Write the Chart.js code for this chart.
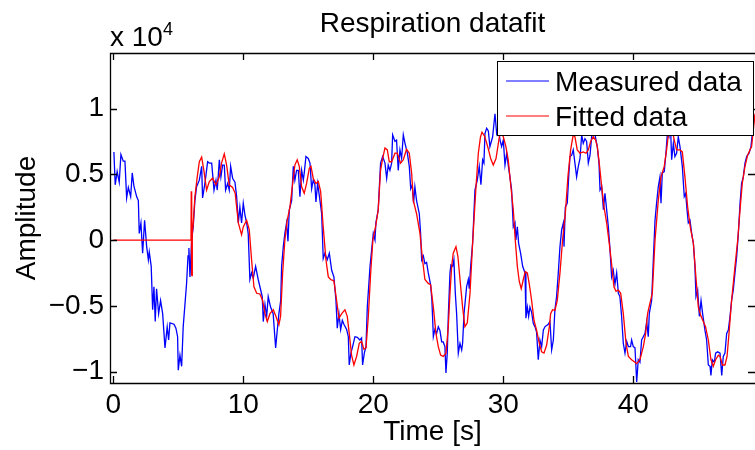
<!DOCTYPE html>
<html>
<head>
<meta charset="utf-8">
<script src="https://cdn.jsdelivr.net/npm/chart.js@4.4.1/dist/chart.umd.min.js"></script>
<style>
  html, body { margin: 0; padding: 0; background: #fff; }
  #wrap { width: 755px; height: 450px; }
</style>
</head>
<body>
<div id="wrap"><canvas id="chart" width="755" height="450"></canvas></div>
<script>
  "use strict";

  // axis ticks (amplitude in units of 10^4)
  var xTicks = [0, 10, 20, 30, 40];
  var yTicks = [-1, -0.5, 0, 0.5, 1];

  // measured respiration signal: [time s, amplitude x 10^4]
  var measured = [
    [0.05, 0.67], [0.15, 0.42], [0.3, 0.52], [0.46, 0.44], [0.59, 0.65], [0.77, 0.60], [0.9, 0.60],
    [1.03, 0.32], [1.16, 0.40], [1.34, 0.33], [1.46, 0.51], [1.59, 0.41], [1.8, 0.33], [1.93, 0.30],
    [2.0, 0.05], [2.13, 0.13], [2.26, -0.10], [2.41, 0.15], [2.57, -0.05], [2.7, -0.15], [2.77, -0.09],
    [2.92, -0.20], [3.03, -0.53], [3.13, -0.355], [3.23, -0.62], [3.33, -0.37], [3.49, -0.56], [3.64, -0.46],
    [3.8, -0.56], [3.98, -0.82], [4.15, -0.66], [4.26, -0.76], [4.36, -0.63], [4.67, -0.64], [4.82, -0.67],
    [4.95, -0.735], [5.0, -0.99], [5.13, -0.875], [5.26, -0.96], [5.38, -0.66], [5.64, -0.33], [5.75, -0.12],
    [5.82, -0.06], [5.9, -0.28], [6.03, 0.0], [6.15, 0.10], [6.28, 0.30], [6.41, 0.405], [6.62, 0.455], [6.8, 0.56],
    [6.87, 0.32], [7.05, 0.43], [7.26, 0.595], [7.39, 0.585], [7.57, 0.585], [7.75, 0.38], [7.9, 0.455],
    [8.0, 0.38], [8.16, 0.61], [8.28, 0.48], [8.41, 0.57], [8.54, 0.57], [8.64, 0.38], [8.8, 0.43],
    [8.92, 0.38], [9.03, 0.56], [9.18, 0.47], [9.36, 0.44], [9.49, 0.33], [9.62, 0.13], [9.74, 0.25],
    [9.87, 0.13], [10.0, 0.28], [10.13, 0.19], [10.26, 0.13], [10.38, 0.05], [10.51, -0.30], [10.64, -0.25],
    [10.77, -0.29], [10.95, -0.20], [11.15, -0.30], [11.34, -0.38], [11.46, -0.43], [11.54, -0.62], [11.67, -0.49],
    [11.8, -0.58], [11.92, -0.43], [12.1, -0.51], [12.3, -0.56], [12.49, -0.82], [12.62, -0.68], [12.74, -0.56],
    [12.88, -0.46], [12.95, -0.20], [13.08, -0.05], [13.2, 0.05], [13.33, 0.13], [13.44, -0.01], [13.54, 0.23],
    [13.72, 0.30], [13.85, 0.56], [13.97, 0.455], [14.1, 0.53], [14.23, 0.53], [14.36, 0.33], [14.49, 0.53],
    [14.62, 0.455], [14.69, 0.51], [14.82, 0.635], [15.0, 0.62], [15.13, 0.585], [15.26, 0.39], [15.38, 0.455],
    [15.51, 0.42], [15.59, 0.29], [15.72, 0.43], [15.9, 0.30], [16.03, 0.20], [16.15, -0.14], [16.28, -0.10],
    [16.46, -0.15], [16.62, -0.10], [16.8, -0.23], [16.97, -0.28], [17.13, -0.46], [17.23, -0.67], [17.36, -0.56],
    [17.49, -0.68], [17.62, -0.61], [17.74, -0.64], [17.95, -0.68], [18.08, -0.735], [18.15, -0.95], [18.28, -0.86],
    [18.41, -0.81], [18.59, -0.735], [18.77, -0.74], [18.97, -0.76], [19.1, -0.745], [19.18, -0.95], [19.31, -0.86],
    [19.44, -0.81], [19.54, -0.51], [19.75, -0.20], [19.87, -0.08], [20.0, 0.05], [20.13, 0.0], [20.2, 0.13],
    [20.38, 0.23], [20.56, 0.585], [20.72, 0.635], [20.9, 0.585], [21.03, 0.47], [21.15, 0.57], [21.28, 0.53],
    [21.41, 0.585], [21.49, 0.80], [21.67, 0.75], [21.79, 0.76], [21.92, 0.53], [22.05, 0.685], [22.18, 0.62],
    [22.31, 0.80], [22.44, 0.735], [22.62, 0.66], [22.77, 0.56], [22.88, 0.39], [23.0, 0.42], [23.1, 0.28],
    [23.2, 0.405], [23.33, 0.30], [23.54, 0.20], [23.64, 0.05], [23.72, -0.15], [23.85, -0.12], [23.97, -0.18],
    [24.1, -0.17], [24.23, -0.25], [24.41, -0.34], [24.51, -0.46], [24.62, -0.735], [24.74, -0.68], [24.87, -0.71],
    [25.0, -0.66], [25.13, -0.69], [25.26, -0.775], [25.38, -0.775], [25.51, -0.81], [25.59, -1.01], [25.69, -0.86],
    [25.77, -0.58], [25.9, -0.25], [25.97, -0.19], [26.1, -0.20], [26.2, -0.15], [26.31, -0.405], [26.41, -0.56],
    [26.54, -0.86], [26.67, -0.785], [26.8, -0.835], [26.87, -0.785], [26.98, -0.56], [27.18, -0.355], [27.31, -0.30],
    [27.38, -0.37], [27.49, -0.20], [27.64, -0.025], [27.82, 0.38], [28.0, 0.455], [28.15, 0.56], [28.28, 0.42],
    [28.41, 0.61], [28.51, 0.585], [28.59, 0.81], [28.72, 0.85], [28.85, 0.83], [28.97, 0.71], [29.18, 0.785],
    [29.36, 0.96], [29.49, 0.81], [29.62, 0.85], [29.75, 0.76], [29.87, 0.71], [30.0, 0.76], [30.13, 0.57],
    [30.26, 0.66], [30.38, 0.57], [30.51, 0.48], [30.64, 0.38], [30.77, 0.10], [30.9, 0.13], [30.97, 0.0],
    [31.08, 0.10], [31.18, -0.025], [31.33, -0.10], [31.49, -0.20], [31.67, -0.25], [31.74, -0.595], [31.85, -0.51],
    [31.95, -0.58], [32.05, -0.51], [32.18, -0.55], [32.31, -0.635], [32.44, -0.66], [32.56, -0.70], [32.69, -0.91],
    [32.82, -0.76], [32.95, -0.81], [33.08, -0.685], [33.2, -0.66], [33.33, -0.65], [33.46, -0.64], [33.59, -0.62],
    [33.72, -0.835], [33.85, -0.76], [33.97, -0.53], [34.1, -0.43], [34.23, -0.25], [34.36, -0.05], [34.49, 0.08],
    [34.62, 0.13], [34.67, -0.05], [34.77, 0.25], [34.92, 0.28], [35.03, 0.48], [35.13, 0.635], [35.26, 0.645],
    [35.38, 0.685], [35.51, 0.585], [35.64, 0.48], [35.77, 0.56], [35.9, 0.62], [36.03, 0.80], [36.15, 0.735],
    [36.28, 0.77], [36.41, 0.75], [36.54, 0.585], [36.67, 0.645], [36.8, 0.79], [36.97, 0.85], [37.13, 0.76],
    [37.23, 0.71], [37.36, 0.585], [37.44, 0.38], [37.57, 0.405], [37.7, 0.23], [37.82, 0.355], [37.95, 0.23],
    [38.08, 0.10], [38.21, -0.075], [38.33, -0.28], [38.46, -0.23], [38.59, -0.335], [38.72, -0.25], [38.85, -0.405],
    [38.97, -0.43], [39.1, -0.58], [39.23, -0.785], [39.36, -0.86], [39.49, -0.77], [39.62, -0.81], [39.79, -0.81],
    [39.87, -0.76], [40.0, -0.81], [40.13, -0.82], [40.26, -1.08], [40.38, -0.91], [40.51, -0.93], [40.64, -0.76],
    [40.77, -0.735], [40.9, -0.71], [41.03, -0.62], [41.15, -0.735], [41.23, -0.56], [41.41, -0.46], [41.54, -0.15],
    [41.67, 0.15], [41.79, 0.28], [41.92, 0.405], [42.05, 0.48], [42.13, 0.28], [42.23, 0.51], [42.38, 0.52],
    [42.51, 0.66], [42.62, 0.81], [42.74, 0.785], [42.85, 0.9], [42.95, 0.61], [43.08, 0.735], [43.2, 0.635],
    [43.33, 0.66], [43.46, 0.785], [43.59, 0.71], [43.77, 0.56], [43.92, 0.33], [44.03, 0.355], [44.13, 0.23],
    [44.23, 0.13], [44.36, 0.15], [44.49, 0.05], [44.62, -0.025], [44.74, -0.20], [44.82, -0.43], [44.95, -0.38],
    [45.08, -0.58], [45.21, -0.46], [45.33, -0.56], [45.51, -0.685], [45.64, -0.76], [45.77, -0.95], [45.9, -0.96],
    [45.97, -1.03], [46.08, -0.91], [46.23, -0.93], [46.33, -0.86], [46.49, -0.85], [46.67, -0.86], [46.8, -1.03],
    [46.92, -0.885], [47.05, -0.86], [47.18, -0.71], [47.31, -0.685], [47.44, -0.58], [47.56, -0.46], [47.69, -0.38],
    [47.82, -0.25], [47.95, -0.125], [48.08, 0.05], [48.21, 0.28], [48.33, 0.43], [48.46, 0.48], [48.59, 0.585],
    [48.72, 0.635], [48.9, 0.66], [49.05, 0.71], [49.18, 0.835], [49.31, 0.94]
  ];

  // fitted model: [time s, amplitude x 10^4]
  var fitted = [
    [0, 0], [5.98, 0], [6.0, 0.37], [6.02, -0.27], [6.04, 0.37], [6.06, -0.27], [6.08, 0.05], [6.15, 0.12],
    [6.28, 0.33], [6.46, 0.48],
    [6.62, 0.595], [6.8, 0.63], [6.97, 0.53], [7.18, 0.38], [7.39, 0.445], [7.64, 0.47], [7.9, 0.42],
    [8.16, 0.48], [8.33, 0.585], [8.54, 0.655], [8.72, 0.57], [8.92, 0.42], [9.18, 0.40], [9.38, 0.355],
    [9.62, 0.13], [9.87, 0.04], [10.0, 0.10], [10.26, 0.15], [10.46, 0.08], [10.64, -0.15], [10.82, -0.355],
    [11.03, -0.405], [11.28, -0.41], [11.49, -0.46], [11.67, -0.56], [11.85, -0.62], [12.05, -0.56], [12.31, -0.53],
    [12.51, -0.58], [12.74, -0.645], [12.87, -0.58], [13.03, -0.25], [13.2, 0.0], [13.38, 0.15], [13.59, 0.25],
    [13.8, 0.43], [13.97, 0.57], [14.15, 0.61], [14.31, 0.56], [14.49, 0.405], [14.69, 0.355], [14.87, 0.43],
    [15.08, 0.545], [15.21, 0.56], [15.38, 0.47], [15.59, 0.43], [15.77, 0.445], [15.95, 0.37], [16.15, 0.10],
    [16.36, -0.15], [16.54, -0.28], [16.72, -0.30], [16.97, -0.31], [17.18, -0.46], [17.36, -0.595], [17.57, -0.56],
    [17.82, -0.53], [18.0, -0.58], [18.15, -0.71], [18.33, -0.875], [18.51, -0.95], [18.72, -0.885], [18.92, -0.785],
    [19.1, -0.77], [19.28, -0.83], [19.44, -0.82], [19.62, -0.58], [19.8, -0.25], [19.97, 0.0], [20.2, 0.115],
    [20.38, 0.23], [20.56, 0.53], [20.72, 0.62], [20.9, 0.70], [21.08, 0.685], [21.23, 0.595], [21.41, 0.595],
    [21.67, 0.66], [21.85, 0.66], [22.1, 0.585], [22.31, 0.61], [22.56, 0.69], [22.77, 0.66], [22.95, 0.51],
    [23.08, 0.30], [23.33, 0.20], [23.59, 0.05], [23.79, -0.15], [23.97, -0.30], [24.23, -0.33], [24.41, -0.34],
    [24.62, -0.51], [24.82, -0.71], [25.0, -0.81], [25.18, -0.875], [25.38, -0.885], [25.59, -0.86], [25.77, -0.66],
    [25.9, -0.405], [26.03, -0.20], [26.15, -0.10], [26.36, -0.05], [26.51, -0.125], [26.67, -0.30], [26.87, -0.51],
    [27.05, -0.66], [27.23, -0.63], [27.44, -0.405], [27.64, -0.025], [27.9, 0.405], [28.08, 0.66], [28.24, 0.78],
    [28.36, 0.82], [28.56, 0.79], [28.8, 0.71], [29.03, 0.62], [29.23, 0.57], [29.44, 0.62], [29.62, 0.735],
    [29.8, 0.85], [30.0, 0.785], [30.2, 0.71], [30.38, 0.61], [30.56, 0.43], [30.77, 0.23], [30.92, 0.0],
    [31.08, -0.20], [31.23, -0.315], [31.38, -0.37], [31.54, -0.30], [31.69, -0.24], [31.85, -0.25], [32.0, -0.335],
    [32.18, -0.46], [32.36, -0.61], [32.56, -0.685], [32.77, -0.785], [32.95, -0.85], [33.13, -0.86], [33.33, -0.80],
    [33.54, -0.66], [33.64, -0.56], [33.79, -0.53], [33.97, -0.535], [34.15, -0.46], [34.36, -0.25], [34.56, 0.0],
    [34.77, 0.20], [34.97, 0.48], [35.18, 0.685], [35.38, 0.80], [35.51, 0.785], [35.69, 0.685], [35.9, 0.66],
    [36.15, 0.67], [36.36, 0.66], [36.54, 0.685], [36.72, 0.75], [36.92, 0.785], [37.1, 0.76], [37.23, 0.71],
    [37.38, 0.585], [37.57, 0.405], [37.75, 0.25], [37.95, 0.13], [38.15, -0.025], [38.33, -0.18], [38.51, -0.355],
    [38.67, -0.39], [38.85, -0.38], [39.03, -0.405], [39.23, -0.56], [39.44, -0.785], [39.62, -0.885], [39.87, -0.91],
    [40.13, -0.93], [40.26, -0.94], [40.51, -0.91], [40.77, -0.81], [40.95, -0.71], [41.1, -0.56], [41.28, -0.48],
    [41.46, -0.405], [41.67, 0.0], [41.92, 0.30], [42.13, 0.48], [42.38, 0.56], [42.56, 0.685], [42.74, 0.835],
    [42.95, 0.86], [43.15, 0.76], [43.33, 0.685], [43.59, 0.685], [43.77, 0.67], [43.97, 0.48], [44.18, 0.25],
    [44.38, 0.10], [44.62, -0.025], [44.79, -0.25], [45.0, -0.51], [45.21, -0.58], [45.38, -0.62], [45.56, -0.66],
    [45.77, -0.76], [45.97, -0.91], [46.15, -0.96], [46.33, -0.91], [46.54, -0.875], [46.67, -0.885], [46.85, -0.95],
    [47.05, -0.95], [47.21, -0.885], [47.36, -0.71], [47.56, -0.46], [47.82, -0.20], [48.03, 0.0], [48.21, 0.23],
    [48.38, 0.43], [48.59, 0.56], [48.79, 0.645], [48.97, 0.685], [49.1, 0.71], [49.23, 0.835], [49.36, 0.96]
  ];

  var FONT = '"Liberation Sans", Arial, Helvetica, sans-serif';

  function toPoints(arr) {
    return arr.map(function (p) { return { x: p[0], y: p[1] }; });
  }

  // MATLAB-style box, inward ticks, legend, title and exponent label
  var matlabFrame = {
    id: 'matlabFrame',
    afterDatasetsDraw: function (chart) {
      var ctx = chart.ctx;
      var a = chart.chartArea;
      var xs = chart.scales.x, ys = chart.scales.y;
      var tl = 7;
      ctx.save();
      ctx.strokeStyle = '#000';
      ctx.lineWidth = 1.3;
      ctx.beginPath();
      ctx.moveTo(a.right, a.top + 0.5);
      ctx.lineTo(a.left + 0.5, a.top + 0.5);
      ctx.lineTo(a.left + 0.5, a.bottom + 0.5);
      ctx.lineTo(a.right, a.bottom + 0.5);
      xTicks.forEach(function (v) {
        var px = Math.round(xs.getPixelForValue(v)) + 0.5;
        ctx.moveTo(px, a.bottom); ctx.lineTo(px, a.bottom - tl);
        ctx.moveTo(px, a.top); ctx.lineTo(px, a.top + tl);
      });
      yTicks.forEach(function (v) {
        var py = Math.round(ys.getPixelForValue(v)) + 0.5;
        ctx.moveTo(a.left, py); ctx.lineTo(a.left + tl, py);
        ctx.moveTo(a.right, py); ctx.lineTo(a.right - tl, py);
      });
      ctx.stroke();

      // legend
      var lx = 497.5, ly = 61.5, lw = 256, lh = 74;
      ctx.fillStyle = '#fff';
      ctx.fillRect(lx, ly, lw, lh);
      ctx.lineWidth = 1;
      ctx.strokeRect(lx, ly, lw, lh);
      ctx.font = '28px ' + FONT;
      ctx.textBaseline = 'alphabetic';
      ctx.textAlign = 'left';
      chart.data.datasets.forEach(function (ds, i) {
        var cy = 81 + i * 35;
        ctx.strokeStyle = ds.borderColor;
        ctx.lineWidth = 1.2;
        ctx.beginPath();
        ctx.moveTo(506, cy); ctx.lineTo(549, cy);
        ctx.stroke();
        ctx.fillStyle = '#000';
        ctx.fillText(ds.label, 555, cy + 10);
      });

      // title
      ctx.fillStyle = '#000';
      ctx.textAlign = 'center';
      ctx.fillText('Respiration datafit', (a.left + a.right) / 2, 32);

      // exponent label
      ctx.textAlign = 'left';
      ctx.fillText('x 10', 110, 46);
      ctx.font = '18px ' + FONT;
      ctx.fillText('4', 163, 35);
      ctx.restore();
    }
  };

  var ctx = document.getElementById('chart').getContext('2d');

  var myChart = new Chart(ctx, {
    type: 'line',
    data: {
      datasets: [{
        label: 'Measured data',
        data: toPoints(measured),
        borderColor: '#0000ff',
        borderWidth: 1.3,
        pointRadius: 0,
        tension: 0,
        order: 2
      }, {
        label: 'Fitted data',
        data: toPoints(fitted),
        borderColor: '#ff0000',
        borderWidth: 1.3,
        pointRadius: 0,
        tension: 0,
        order: 1
      }]
    },
    options: {
      responsive: false,
      animation: false,
      events: [],
      layout: { padding: { top: 53, left: 0, right: 0, bottom: 0 } },
      plugins: {
        legend: { display: false },
        title: { display: false },
        tooltip: { enabled: false }
      },
      scales: {
        x: {
          type: 'linear',
          min: -0.25,
          max: 49.36,
          afterBuildTicks: function (s) { s.ticks = xTicks.map(function (v) { return { value: v }; }); },
          afterFit: function (s) { s.height = 67; },
          grid: { display: false, drawTicks: false },
          border: { display: false },
          ticks: { color: '#000', font: { family: FONT, size: 28 }, padding: 5, maxRotation: 0, autoSkip: false },
          title: { display: true, text: 'Time [s]', color: '#000', font: { family: FONT, size: 28 }, padding: { top: 0, bottom: 1 } }
        },
        y: {
          type: 'linear',
          min: -1.087,
          max: 1.422,
          afterBuildTicks: function (s) { s.ticks = yTicks.map(function (v) { return { value: v }; }); },
          afterFit: function (s) { s.width = 110; },
          grid: { display: false, drawTicks: false },
          border: { display: false },
          ticks: {
            color: '#000',
            font: { family: FONT, size: 28 },
            padding: 6,
            callback: function (v) { return v < 0 ? '\u2212' + Math.abs(v) : String(v); }
          },
          title: { display: true, text: 'Amplitude', color: '#000', font: { family: FONT, size: 28 }, padding: { top: 10, bottom: 0 } }
        }
      }
    },
    plugins: [matlabFrame]
  });
</script>
</body>
</html>
